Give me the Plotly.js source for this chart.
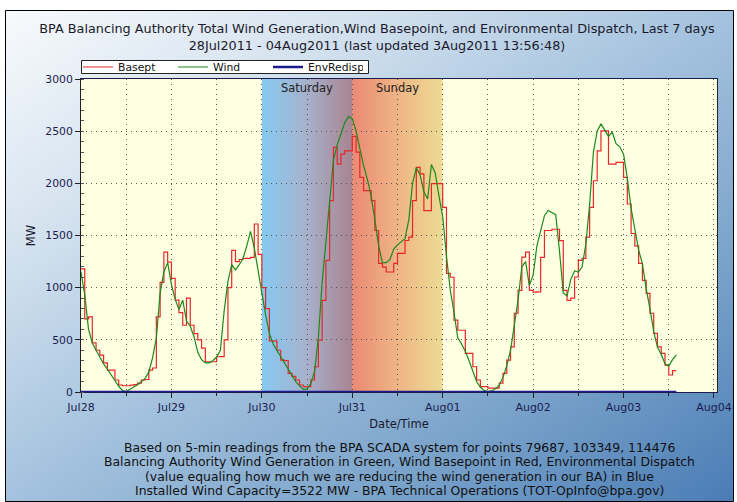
<!DOCTYPE html>
<html><head><meta charset="utf-8">
<script src="https://cdn.plot.ly/plotly-3.0.1.min.js"></script>
<style>html,body{margin:0;padding:0;background:#fff;}#chart{width:737px;height:502px;}</style>
</head><body><div id="chart"></div>
<script>
// ---- data (hourly readings, Jul28 00:00 -> Aug03 14:00) ----
const startTime = Date.UTC(2011, 6, 28, 0, 0);
const stepMinutes = 60;

const basept = [
 1180,700,720,470,400,353,280,210,210,115,67,60,60,65,70,85,115,120,210,230,720,1050,1340,1245,
 1090,880,760,640,900,640,560,500,420,290,290,290,338,340,500,1000,1357,1250,1270,1280,1280,1290,1610,1320,
 1000,800,490,487,400,306,300,178,150,115,67,51,51,115,242,497,879,1261,1834,2344,2185,2280,2312,2312,
 2450,2300,2057,1930,1930,1834,1548,1232,1197,1150,1150,1232,1328,1328,1452,1484,1834,2153,2090,1739,1739,1997,1997,1997,
 1770,1137,1100,688,592,592,370,370,242,115,51,51,38,38,38,86,178,306,433,755,975,1293,1340,975,
 958,960,1290,1548,1548,1560,1560,1450,975,879,900,1102,1261,1280,1484,1770,2025,2312,2503,2503,2184,2184,2201,2201,
 2057,1802,1519,1400,1232,1070,946,755,561,433,370,258,163,204,204
];
const wind = [
 1150,930,600,470,400,330,270,220,160,110,55,15,5,25,45,70,95,130,190,330,520,950,1150,1240,
 1030,890,790,880,680,630,530,380,310,280,280,300,335,400,780,1060,1220,1170,1220,1280,1400,1540,1380,1150,
 950,740,560,460,400,330,280,220,160,100,60,25,30,80,200,520,1050,1430,1860,2220,2370,2470,2580,2640,
 2620,2500,2330,2170,2040,1880,1650,1400,1240,1240,1270,1370,1410,1440,1470,1650,2000,2150,2080,1920,1850,2180,2100,1880,
 1680,1300,980,760,520,460,390,300,200,100,45,15,5,10,30,65,140,250,400,650,880,1200,1250,1020,
 1120,1400,1540,1690,1740,1720,1700,1350,950,920,1080,1160,1150,1200,1420,1800,2300,2500,2570,2510,2450,2490,2380,2350,
 2280,2050,1760,1560,1360,1230,990,800,580,430,360,270,250,310,355
];
const envRedisp = [
 0,0,0,0,0,0,0,0,0,0,0,0,0,0,0,0,0,0,0,0,0,0,0,0,
 0,0,0,0,0,0,0,0,0,0,0,0,0,0,0,0,0,0,0,0,0,0,0,0,
 0,0,0,0,0,0,0,0,0,0,0,0,0,0,0,0,0,0,0,0,0,0,0,0,
 0,0,0,0,0,0,0,0,0,0,0,0,0,0,0,0,0,0,0,0,0,0,0,0,
 0,0,0,0,0,0,0,0,0,0,0,0,0,0,0,0,0,0,0,0,0,0,0,0,
 0,0,0,0,0,0,0,0,0,0,0,0,0,0,0,0,0,0,0,0,0,0,0,0,
 0,0,0,0,0,0,0,0,0,0,0,0,0,0,0
];
const seriesNames = ['Basept', 'Wind', 'EnvRedisp'];
const weekendLabels = ['Saturday', 'Sunday'];
const weekendMid = ['2011-07-30 12:00', '2011-07-31 12:00'];
const weekendStart = '2011-07-30';
const xRange = ['2011-07-28 00:00', '2011-08-04 00:48'];
const titleLines = ['BPA Balancing Authority Total Wind Generation,Wind Basepoint, and Environmental Dispatch, Last 7 days',
                    '28Jul2011 - 04Aug2011 (last updated 3Aug2011 13:56:48)'];
const footLines = [
 'Based on 5-min readings from the BPA SCADA system for points 79687, 103349, 114476',
 'Balancing Authority Wind Generation in Green, Wind Basepoint in Red, Environmental Dispatch',
 '(value equaling how much we are reducing the wind generation in our BA) in Blue',
 'Installed Wind Capacity=3522 MW - BPA Technical Operations (TOT-OpInfo@bpa.gov)'
];

// ---- build ----
function fmt(ms){ return new Date(ms).toISOString().slice(0,16).replace('T',' '); }
const times = basept.map((_, i) => fmt(startTime + i * stepMinutes * 60000));

const FONT = 'DejaVu Sans, Verdana, sans-serif';
const W = 737, H = 502, L = 81, R = 20, T = 79, B = 110;
const pw = W - L - R, ph = H - T - B;
const px2x = p => (p - L) / pw;
const py2y = p => (H - B - p) / ph;

const bgSvg = '<svg xmlns="http://www.w3.org/2000/svg" width="728" height="491" viewBox="0 0 728 491" preserveAspectRatio="none"><defs><linearGradient id="g" x1="0" y1="0" x2="1" y2="1"><stop offset="0" stop-color="#f8fafc"/><stop offset="0.25" stop-color="#d4e2ef"/><stop offset="0.5" stop-color="#a4c2de"/><stop offset="0.75" stop-color="#7aa3ca"/><stop offset="1" stop-color="#4a7cb5"/></linearGradient></defs><rect width="728" height="491" fill="url(#g)"/></svg>';
const wkSvg = '<svg xmlns="http://www.w3.org/2000/svg" width="200" height="100" viewBox="0 0 200 100" preserveAspectRatio="none"><defs><linearGradient id="s" x1="0" y1="0" x2="1" y2="0"><stop offset="0" stop-color="#86c9f1"/><stop offset="0.5" stop-color="#a7b1cb"/><stop offset="1" stop-color="#a8838f"/></linearGradient><linearGradient id="u" x1="0" y1="0" x2="1" y2="0"><stop offset="0" stop-color="#ea8a74"/><stop offset="0.5" stop-color="#efb585"/><stop offset="1" stop-color="#ecdb93"/></linearGradient></defs><rect x="0" y="0" width="100.5" height="100" fill="url(#s)"/><rect x="100" y="0" width="100" height="100" fill="url(#u)"/></svg>';
const uri = s => 'data:image/svg+xml;base64,' + btoa(s);

const traces = [
 {x: times, y: basept, name: seriesNames[0], type: 'scatter', mode: 'lines', line: {color: '#e8262b', width: 1.2, shape: 'hv'}},
 {x: times, y: wind, name: seriesNames[1], type: 'scatter', mode: 'lines', line: {color: '#1b8a1b', width: 1.2}},
 {x: times, y: envRedisp, name: seriesNames[2], type: 'scatter', mode: 'lines', line: {color: '#1c1c8e', width: 2.5}}
];

const gridDash = '1px,4px';
const footFont = 12.4, footGap = 14.6, footTop = 447;
const layout = {
 width: W, height: H,
 margin: {l: L, r: R, t: T, b: B, pad: 0},
 paper_bgcolor: '#ffffff', plot_bgcolor: 'rgba(0,0,0,0)',
 font: {family: FONT, size: 10, color: '#1a1a2e'},
 title: {text: titleLines.join('<br>'), xref: 'paper', x: px2x(377), xanchor: 'center',
         yref: 'container', y: 1 - 33/H, yanchor: 'top', font: {family: FONT, size: 12.8, color: '#1a1a2a'}},
 showlegend: true,
 legend: {orientation: 'h', x: px2x(78), xanchor: 'left', y: py2y(52.5), yanchor: 'top',
          bgcolor: 'rgba(0,0,0,0)', borderwidth: 0, font: {family: FONT, size: 10.8, color: '#111'},
          entrywidth: 50, entrywidthmode: 'pixels', itemwidth: 30, traceorder: 'normal'},
 xaxis: {type: 'date', range: xRange, dtick: 86400000, tick0: '2011-07-28', tickformat: '%b%d',
         ticks: 'outside', ticklen: 5, tickcolor: '#222', tickfont: {family: FONT, size: 11, color: '#1c1c50'},
         showline: true, linecolor: '#1c1c50', linewidth: 1, mirror: true, zeroline: false,
         showgrid: true, gridcolor: '#555', griddash: gridDash, gridwidth: 1,
         minor: {dtick: 43200000, ticks: 'outside', ticklen: 3, tickcolor: '#222', showgrid: true, gridcolor: '#555', griddash: gridDash},
         title: {text: 'Date/Time', font: {family: FONT, size: 11.5, color: '#1a1a2e'}, standoff: 6}},
 yaxis: {range: [0, 3000], dtick: 500, ticks: 'outside', ticklen: 5, tickcolor: '#222',
         tickfont: {family: FONT, size: 10.8, color: '#1c1c50'},
         showline: true, linecolor: '#222', linewidth: 1, mirror: true, zeroline: false,
         showgrid: true, gridcolor: '#555', griddash: gridDash, gridwidth: 1,
         minor: {dtick: 100, ticks: 'inside', ticklen: 3, tickcolor: '#555', showgrid: false},
         title: {text: 'MW', font: {family: FONT, size: 11.5, color: '#1a1a2e'}, standoff: 7}},
 images: [
  {source: uri(bgSvg), xref: 'paper', yref: 'paper', x: px2x(5), y: py2y(10), sizex: 728/pw, sizey: 491/ph,
   xanchor: 'left', yanchor: 'top', sizing: 'stretch', layer: 'below'},
  {source: uri(wkSvg), xref: 'x', yref: 'y', x: weekendStart, y: 3000, sizex: 2*86400000, sizey: 3000,
   xanchor: 'left', yanchor: 'top', sizing: 'stretch', layer: 'below'}
 ],
 shapes: [
  {type: 'rect', xref: 'paper', yref: 'paper', x0: 0, x1: 1, y0: 0, y1: 1, fillcolor: '#ffffe1', line: {width: 0}, layer: 'below'},
  {type: 'rect', xref: 'paper', yref: 'paper', x0: px2x(5.5), x1: px2x(733.5), y0: py2y(501.5), y1: py2y(10.5),
   fillcolor: 'rgba(0,0,0,0)', line: {width: 1, color: '#000'}, layer: 'below'},
  {type: 'rect', xref: 'paper', yref: 'paper', x0: px2x(81.5), x1: px2x(368.5), y0: py2y(73.5), y1: py2y(60.5),
   fillcolor: '#ffffff', line: {width: 1, color: '#222'}, layer: 'below'}
 ],
 annotations: weekendLabels.map((t, i) => ({text: t, x: weekendMid[i], xref: 'x', y: py2y(88), yref: 'paper',
   yanchor: 'middle', showarrow: false, font: {family: FONT, size: 11.5, color: '#222'}})).concat(
   footLines.map((t, i) => ({text: t, xref: 'paper', x: px2x(399), yref: 'paper', y: py2y(footTop + i*footGap),
   showarrow: false, xanchor: 'center', yanchor: 'middle', borderpad: 0, font: {family: FONT, size: footFont, color: '#111'}})))
};

Plotly.newPlot('chart', traces, layout, {displayModeBar: false, staticPlot: true});
</script>
</body></html>
